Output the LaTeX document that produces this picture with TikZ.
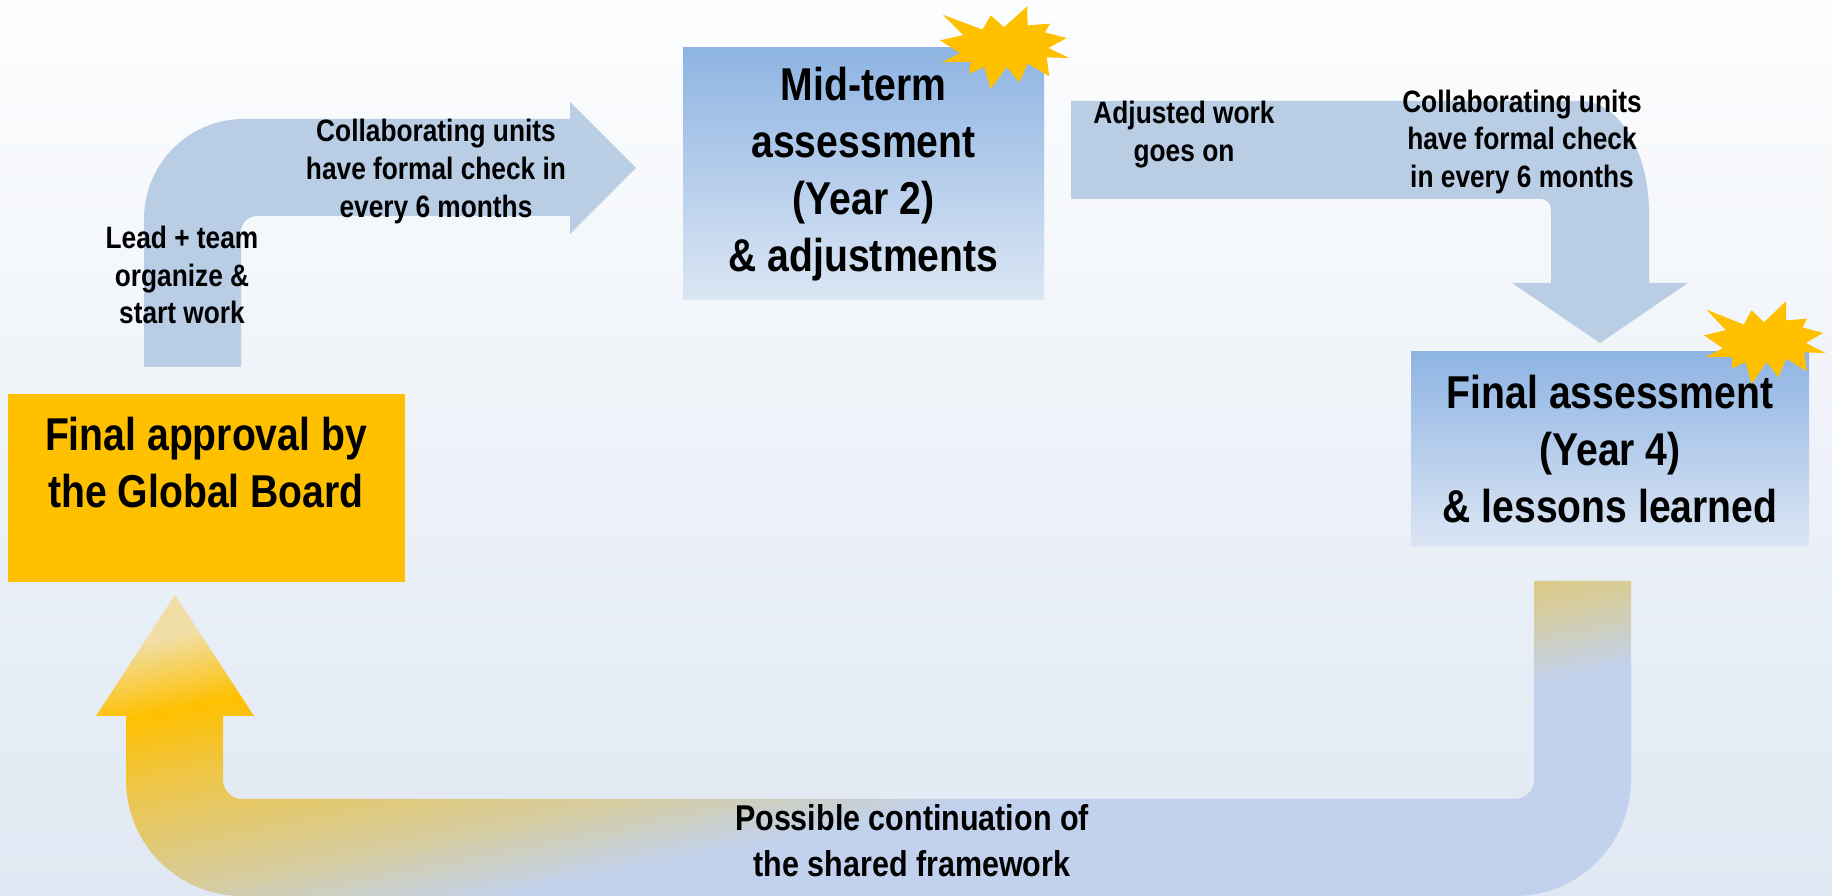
\documentclass[tikz,border=0pt]{standalone}
\usepackage{fontspec}
\setmainfont{Liberation Sans}[FakeStretch=0.85]

\definecolor{burstgold}{HTML}{FFC000}
\definecolor{flowblue}{HTML}{B9CDE5}
\definecolor{boxtop}{HTML}{8EB4E3}
\definecolor{boxbot}{HTML}{DCE6F4}
\definecolor{bgtop}{HTML}{FCFDFE}
\definecolor{bgbot}{HTML}{E0E8F3}
\definecolor{upale}{HTML}{F0DEA6}
\definecolor{uyel}{HTML}{EFC543}
\definecolor{utan}{HTML}{D6CC9E}
\definecolor{ublue}{HTML}{C2D2EE}

\pgfdeclarehorizontalshading{ushade}{100bp}{color(0bp)=(upale); color(27bp)=(upale); color(34bp)=(burstgold); color(40bp)=(uyel); color(51bp)=(utan); color(58bp)=(ublue); color(100bp)=(ublue)}

\begin{document}
\begin{tikzpicture}[
    smalltxt/.style={font=\bfseries\fontsize{8.8}{10.8}\selectfont, align=center, inner sep=0},
    bigtxt/.style={font=\bfseries\fontsize{13.1}{16.2}\selectfont, align=center, inner sep=0},
    bottxt/.style={font=\bfseries\fontsize{10.2}{13.1}\selectfont, align=center, inner sep=0},
    phase/.style={top color=boxtop, bottom color=boxbot, inner sep=0, bigtxt},
    burst/.pic={
        \fill[burstgold] (-0.623,0.333) -- (-0.225,0.184) -- (-0.143,0.327) -- (-0.010,0.208) -- (0.223,0.417) -- (0.226,0.226) -- (0.450,0.243) -- (0.398,0.156) -- (0.617,0.100) -- (0.434,0) -- (0.643,-0.100) -- (0.416,-0.094) -- (0.443,-0.283) -- (0.226,-0.156) -- (0.143,-0.343) -- (0.018,-0.190) -- (-0.143,-0.410) -- (-0.208,-0.190) -- (-0.357,-0.257) -- (-0.346,-0.138) -- (-0.633,-0.143) -- (-0.450,-0.052) -- (-0.650,0.077) -- (-0.416,0.128) -- cycle;
    }
]
    %%%%%%%%% Sfondo %%%%%%%%%
    \shade[top color=bgtop, bottom color=bgbot] (0,0) rectangle (18.32,8.96);

    %%%%%%%%% Frecce %%%%%%%%%
    \fill[flowblue] (1.44,5.29) -- (1.44,6.77) arc[start angle=180, end angle=90, radius=1] -- (5.70,7.77) -- (5.70,7.94) -- (6.36,7.28) -- (5.70,6.62) -- (5.70,6.80) -- (2.57,6.80) arc[start angle=90, end angle=180, radius=0.16] -- (2.41,5.29) -- cycle;
    \fill[flowblue] (10.71,7.95) -- (15.81,7.95) arc[start angle=90, end angle=0, x radius=0.68, y radius=1.12] -- (16.49,6.13) -- (16.88,6.13) -- (16.00,5.53) -- (15.12,6.13) -- (15.51,6.13) -- (15.51,6.87) arc[start angle=0, end angle=90, radius=0.1] -- (10.71,6.97) -- cycle;
    \shade[shading=ushade, shading angle=-78.4] (16.31,3.15) -- (16.31,1.16) arc[start angle=0, end angle=-90, radius=1.16] -- (2.42,0) arc[start angle=270, end angle=180, radius=1.16] -- (1.26,1.80) -- (0.96,1.80) -- (1.75,3.01) -- (2.54,1.80) -- (2.23,1.80) -- (2.23,1.16) arc[start angle=180, end angle=270, radius=0.19] -- (15.15,0.97) arc[start angle=270, end angle=360, radius=0.19] -- (15.34,3.15) -- cycle;

    %%%%%%%%% Riquadri %%%%%%%%%
    \node[fill=burstgold, minimum width=3.97cm, minimum height=1.88cm, inner sep=0] (approval) at (2.065,4.08) {};
    \node[bigtxt] (approvaltxt) at (2.06,4.33) {Final approval by\\the Global Board};
    \node[phase, minimum width=3.61cm, minimum height=2.52cm] (midterm) at (8.635,7.22) {Mid-term\\assessment\\(Year 2)\\\& adjustments};
    \node[phase, minimum width=3.98cm, minimum height=1.95cm] (final) at (16.10,4.465) {Final assessment\\(Year 4)\\\& lessons learned};

    %%%%%%%%% Stelle %%%%%%%%%
    \pic (midburst) at (10.05,8.48) {burst};
    \pic[xscale=0.94] (finalburst) at (17.65,5.53) {burst};

    %%%%%%%%% Testi %%%%%%%%%
    \node[smalltxt] (leadtxt) at (1.82,6.21) {Lead + team\\organize \&\\start work};
    \node[smalltxt] (checkatxt) at (4.36,7.245) {Collaborating units\\have formal check in\\every 6 months};
    \node[smalltxt] (adjtxt) at (11.84,7.615) {Adjusted work\\goes on};
    \node[smalltxt] (checkbtxt) at (15.22,7.54) {Collaborating units\\have formal check\\in every 6 months};
    \node[bottxt] (nexttxt) at (9.12,0.55) {Possible continuation of\\the shared framework};
\end{tikzpicture}
\end{document}
